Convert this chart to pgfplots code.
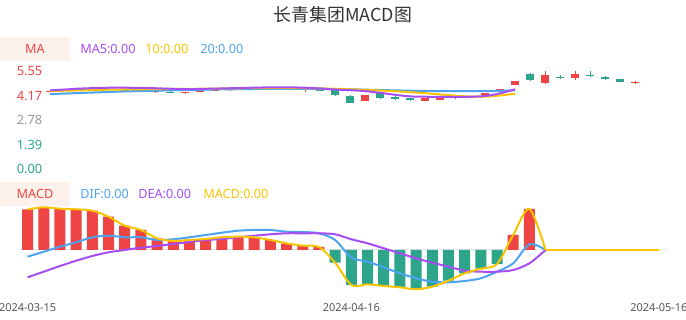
\documentclass[border=0pt]{standalone}
\usepackage{fontspec}
\setmainfont{Noto Sans}
\newfontfamily\cjk{Noto Sans CJK SC}
\usepackage{pgfplots}
\pgfplotsset{compat=1.18}
\usepackage{pgfplotstable}
\definecolor{kred}{HTML}{EE4444}
\definecolor{kgreen}{HTML}{2CA58A}
\definecolor{kblue}{HTML}{4DA3F0}
\definecolor{kpurple}{HTML}{A64DF5}
\definecolor{kgold}{HTML}{F8C400}
\definecolor{lgray}{HTML}{999999}
\definecolor{dategray}{HTML}{555555}
\definecolor{titlegray}{HTML}{333333}
\definecolor{axgray}{HTML}{E6E6E6}
\definecolor{legbg}{HTML}{FDF1EC}

% rising candles: index, body bottom, body top, low, high
\pgfplotstableread{
i b t l h
0 4.41 4.45 4.40 4.47
1 4.48 4.50 4.46 4.52
3 4.54 4.55 4.52 4.57
7 4.42 4.43 4.32 4.46
9 4.31 4.36 4.29 4.38
10 4.40 4.42 4.38 4.45
11 4.42 4.47 4.41 4.49
12 4.48 4.52 4.46 4.55
14 4.50 4.55 4.49 4.58
17 4.50 4.52 4.40 4.60
21 3.88 4.21 3.86 4.23
25 3.89 4.02 3.87 4.04
26 3.95 4.07 3.93 4.09
27 4.02 4.07 4.00 4.09
28 4.08 4.10 4.04 4.12
29 4.20 4.32 4.19 4.34
30 4.42 4.53 4.40 4.56
31 4.77 4.98 4.76 4.99
33 4.90 5.34 4.81 5.57
35 5.15 5.38 5.07 5.55
39 4.86 4.93 4.85 5.00
}\redc
% falling candles
\pgfplotstableread{
i b t l h
2 4.54 4.57 4.53 4.59
4 4.53 4.56 4.51 4.58
5 4.46 4.50 4.45 4.52
6 4.45 4.48 4.43 4.50
8 4.35 4.40 4.33 4.42
13 4.50 4.53 4.48 4.56
15 4.54 4.56 4.52 4.59
16 4.50 4.54 4.49 4.56
18 4.46 4.52 4.45 4.54
19 4.21 4.47 4.13 4.49
20 3.77 4.17 3.75 4.19
22 4.02 4.30 4.00 4.33
23 3.98 4.09 3.92 4.15
24 3.90 4.02 3.84 4.04
32 5.06 5.38 5.00 5.45
34 5.16 5.22 5.09 5.34
36 5.30 5.36 5.22 5.55
37 5.12 5.24 5.06 5.30
38 4.93 5.13 4.92 5.14
}\greenc

\begin{document}
\begin{tikzpicture}[x=0.75pt,y=0.75pt]
\path[use as bounding box] (0,0) rectangle (686,320);

\node[font=\cjk\fontsize{13.4pt}{15pt}\selectfont, text=titlegray] at (343,305) {长青集团MACD图};

% ---------- price panel ----------
\begin{axis}[
 at={(31.875pt,113.025pt)}, anchor=south west,
 width=450pt, height=73.5pt, scale only axis,
 xmin=-0.5, xmax=39.5, ymin=0, ymax=5.55,
 clip=false,
 axis line style={draw=none},
 major tick length=0pt,
 xtick=\empty,
 ytick={0,1.39,2.78,4.17,5.55},
 yticklabels={\textcolor{kgreen}{0.00},\textcolor{kgreen}{1.39},\textcolor{lgray}{2.78},\textcolor{kred}{4.17},\textcolor{kred}{5.55}},
 yticklabel style={font=\fontsize{9.6pt}{11pt}\selectfont, anchor=east, inner sep=0pt},
 /pgf/number format/assume math mode=true,
]
\addplot[draw=none, mark=none, forget plot, error bars/.cd, y dir=plus, y explicit, error mark=none,
  error bar style={draw=kred, line width=0.75pt}]
  table[x=i, y=l, y error expr=\thisrow{h}-\thisrow{l}] {\redc};
\addplot[draw=none, mark=none, forget plot, error bars/.cd, y dir=plus, y explicit, error mark=none,
  error bar style={draw=kred, line width=6pt}]
  table[x=i, y=b, y error expr=\thisrow{t}-\thisrow{b}] {\redc};
\addplot[draw=none, mark=none, forget plot, error bars/.cd, y dir=plus, y explicit, error mark=none,
  error bar style={draw=kgreen, line width=0.75pt}]
  table[x=i, y=l, y error expr=\thisrow{h}-\thisrow{l}] {\greenc};
\addplot[draw=none, mark=none, forget plot, error bars/.cd, y dir=plus, y explicit, error mark=none,
  error bar style={draw=kgreen, line width=6pt}]
  table[x=i, y=b, y error expr=\thisrow{t}-\thisrow{b}] {\greenc};
% MA20
\addplot[kblue, line width=1.5pt, smooth, mark=none] coordinates {
(0,4.26)(1,4.29)(2,4.32)(3,4.35)(4,4.38)(5,4.41)(6,4.43)(7,4.45)(8,4.47)(9,4.49)
(10,4.50)(11,4.52)(12,4.53)(13,4.54)(14,4.55)(15,4.55)(16,4.55)(17,4.55)(18,4.54)(19,4.54)
(20,4.53)(21,4.51)(22,4.49)(23,4.47)(24,4.45)(25,4.44)(26,4.43)(27,4.43)(28,4.43)(29,4.43)
(30,4.44)(31,4.48)};
% MA10
\addplot[kgold, line width=1.5pt, smooth, mark=none] coordinates {
(0,4.43)(1,4.45)(2,4.47)(3,4.49)(4,4.51)(5,4.52)(6,4.53)(7,4.54)(8,4.55)(9,4.55)
(10,4.56)(11,4.57)(12,4.58)(13,4.59)(14,4.59)(15,4.60)(16,4.60)(17,4.59)(18,4.58)(19,4.56)
(20,4.53)(21,4.50)(22,4.46)(23,4.42)(24,4.37)(25,4.31)(26,4.24)(27,4.17)(28,4.12)(29,4.12)
(30,4.18)(31,4.28)};
% MA5
\addplot[kpurple, line width=1.5pt, smooth, mark=none] coordinates {
(0,4.47)(1,4.52)(2,4.57)(3,4.60)(4,4.62)(5,4.62)(6,4.61)(7,4.59)(8,4.56)(9,4.54)
(10,4.55)(11,4.57)(12,4.59)(13,4.61)(14,4.63)(15,4.64)(16,4.64)(17,4.62)(18,4.58)(19,4.52)
(20,4.48)(21,4.43)(22,4.33)(23,4.22)(24,4.13)(25,4.11)(26,4.10)(27,4.10)(28,4.11)(29,4.15)
(30,4.30)(31,4.53)};
\end{axis}

% ---------- MACD panel ----------
\begin{axis}[
 at={(14.625pt,15pt)}, anchor=south west,
 width=485.625pt, height=75pt, scale only axis,
 xmin=-0.5, xmax=39.5, ymin=-50, ymax=50,
 clip=false,
 axis line style={draw=none},
 major tick length=0pt,
 ytick=\empty,
 xtick={0,20,39}, xticklabels={2024-03-15,2024-04-16,2024-05-16},
 xticklabel style={font=\fontsize{8.2pt}{9pt}\selectfont, text=dategray, anchor=north, yshift=1pt},
]
\addplot[draw=axgray, line width=0.75pt, mark=none, forget plot] coordinates {(-0.5,0) (39.5,0)};
\addplot[ybar, bar width=8.25pt, bar shift=0pt, fill=kred, draw=none] coordinates {
(0,40.7)(1,42.7)(2,41.3)(3,40.7)(4,39.3)(5,33.3)(6,24.3)(7,20)(8,11.7)(9,9)
(10,10)(11,11)(12,12.7)(13,13.3)(14,12.7)(15,10)(16,6.7)(17,4.3)(18,3)
(30,15)(31,41)};
\addplot[ybar, bar width=8.25pt, bar shift=0pt, fill=kgreen, draw=none] coordinates {
(19,-12.7)(20,-35)(21,-34.3)(22,-36)(23,-37.3)(24,-39.3)(25,-36.7)(26,-30.7)(27,-23.3)(28,-18.7)(29,-14)};
% DIF
\addplot[kblue, line width=1.5pt, smooth, mark=none] coordinates {
(0,-6.7)(1,-1.7)(2,3.3)(3,7.7)(4,12.7)(5,14.3)(6,12.7)(7,12.7)(8,10)(9,10.7)
(10,12.7)(11,15)(12,17.3)(13,19.3)(14,20)(15,20)(16,18.3)(17,18)(18,16.7)(19,10)
(20,-7.5)(21,-11.7)(22,-17.3)(23,-23.3)(24,-28.3)(25,-31.7)(26,-32.3)(27,-31)(28,-28.3)(29,-21.7)
(30,-13.3)(31,5.7)(32,0)};
% DEA
\addplot[kpurple, line width=1.5pt, smooth, mark=none] coordinates {
(0,-27.3)(1,-21.7)(2,-16)(3,-10.7)(4,-6)(5,-2.3)(6,0)(7,2.3)(8,4)(9,6)
(10,8)(11,10)(12,11)(13,12.7)(14,14.3)(15,15.7)(16,16.7)(17,16.7)(18,16.7)(19,15.7)
(20,10.7)(21,6.7)(22,1.7)(23,-3.3)(24,-8.3)(25,-12.7)(26,-16.7)(27,-20.7)(28,-21.7)(29,-21.7)
(30,-20)(31,-13.3)(32,0)};
% MACD
\addplot[kgold, line width=1.5pt, smooth, mark=none] coordinates {
(0,40.7)(1,42.7)(2,41.3)(3,40.7)(4,39.3)(5,33.3)(6,24.3)(7,20)(8,11.7)(9,9)
(10,10)(11,11)(12,12.7)(13,13.3)(14,12.7)(15,10)(16,6.7)(17,4.3)(18,3)(19,-12.7)
(20,-35)(21,-34.3)(22,-36)(23,-37.3)(24,-39.3)(25,-36.7)(26,-30.7)(27,-23.3)(28,-18.7)(29,-14)
(30,15)(31,41)(32,0)};
\addplot[kgold, line width=1.5pt, mark=none] coordinates {
(32,0)(33,0)(34,0)(35,0)(36,0)(37,0)(38,0)(39,0)};
\end{axis}

% legends
\fill[legbg] (0,259) rectangle (70,283);
\begin{scope}[every node/.style={font=\fontsize{9.5pt}{11pt}\selectfont, inner sep=0pt}]
\node[text=kred] at (35,271) {MA};
\node[anchor=west, text=kpurple] at (80,271) {MA5:0.00};
\node[anchor=west, text=kgold] at (145,271) {10:0.00};
\node[anchor=west, text=kblue] at (200,271) {20:0.00};
\end{scope}
\fill[legbg] (0,114) rectangle (70,138);
\begin{scope}[every node/.style={font=\fontsize{9.5pt}{11pt}\selectfont, inner sep=0pt}]
\node[text=kred] at (35,126) {MACD};
\node[anchor=west, text=kblue] at (80,126) {DIF:0.00};
\node[anchor=west, text=kpurple] at (138,126) {DEA:0.00};
\node[anchor=west, text=kgold] at (203,126) {MACD:0.00};
\end{scope}
\end{tikzpicture}
\end{document}
